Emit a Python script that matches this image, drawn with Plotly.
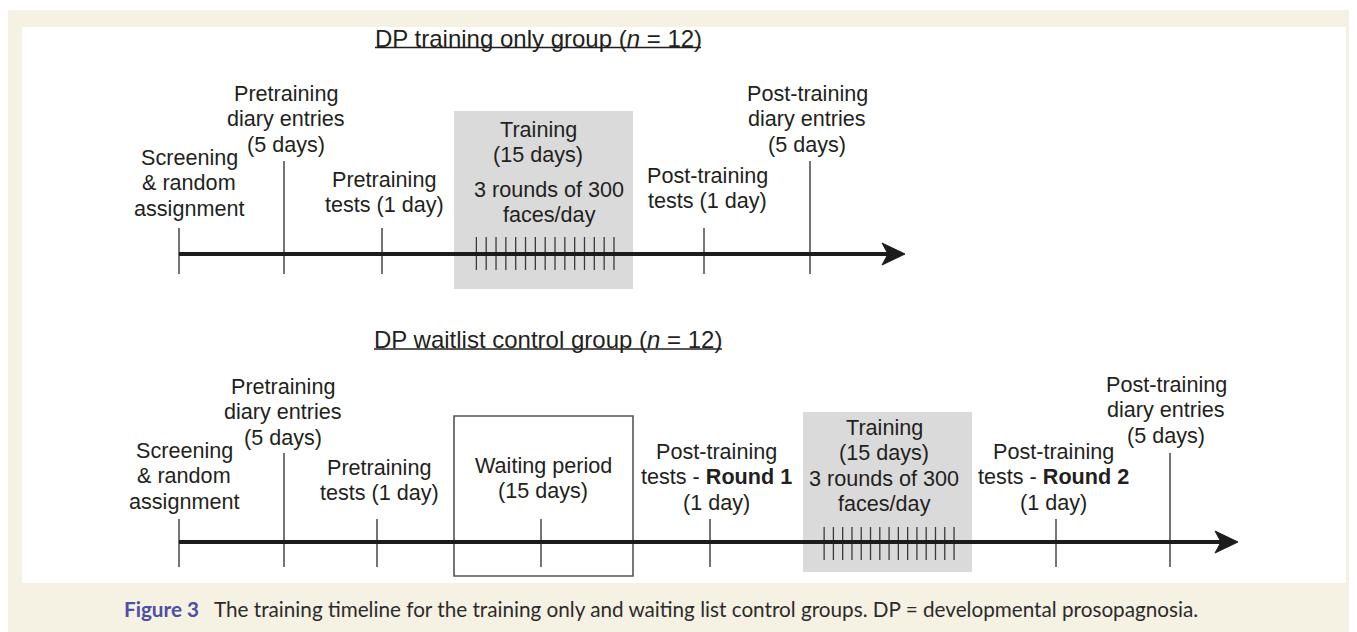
import numpy as np
import plotly.graph_objects as go

W, H = 1357, 632
OFF = 8  # browser body margin

# ---------------- data ----------------
# Top timeline: DP training only group
top_title = "DP training only group (<i>n</i> = 12)"
top_event_x = [179, 284, 382, 704, 810]
top_event_tall = [False, True, False, False, True]
top_label_lines = [
    ["Screening", "& random", "assignment"],
    ["Pretraining", "diary entries", "(5 days)"],
    ["Pretraining", "tests (1 day)"],
    ["Post-training", "tests (1 day)"],
    ["Post-training", "diary entries", "(5 days)"],
]
top_label_x = [189, 286, 384, 707, 807]
top_label_y0 = [157, 93, 179, 175, 93]
top_training_span = [454, 633]
top_training_days = 15
top_training_lines = ["Training", "(15 days)"]
top_training_lines2 = ["3 rounds of 300", "faces/day"]

# Bottom timeline: DP waitlist control group
bot_title = "DP waitlist control group (<i>n</i> = 12)"
bot_event_x = [179, 284, 377, 541, 710, 1056, 1170]
bot_event_tall = [False, True, False, False, False, False, True]
bot_label_lines = [
    ["Screening", "& random", "assignment"],
    ["Pretraining", "diary entries", "(5 days)"],
    ["Pretraining", "tests (1 day)"],
    ["Waiting period", "(15 days)"],
    ["Post-training", "tests - <b>Round 1</b>", "(1 day)"],
    ["Post-training", "tests - <b>Round 2</b>", "(1 day)"],
    ["Post-training", "diary entries", "(5 days)"],
]
bot_label_x = [184, 283, 379, 543, 716, 1053, 1166]
bot_label_y0 = [450, 386, 467, 465, 451, 451, 384]
bot_waiting_span = [454, 633]
bot_training_span = [803, 972]
bot_training_days = 15
bot_training_lines = ["Training", "(15 days)", "3 rounds of 300", "faces/day"]

caption_label = "Figure 3"
caption_text = ("The training timeline for the training only and waiting list control groups. "
                "DP = developmental prosopagnosia.")

# ---------------- styles ----------------
CREAM = "#f5f1e3"
GRAY_BOX = "#dadadb"
TXT = "#231f20"
TICK = "#3a3a3a"
AXIS = "#1c1c1c"
FONT = "Liberation Sans, Arial, sans-serif"
FS = 21.6
LS = 25.5  # line step

shapes = []
annotations = []

# background pieces
shapes.append(dict(type="rect", x0=0, x1=W, y0=0, y1=10, fillcolor="white", line_width=0, layer="below"))
shapes.append(dict(type="rect", x0=22, x1=1346, y0=27, y1=583, fillcolor="white", line_width=0, layer="below"))


def add_lines(lines, x, y0, step=LS):
    for i, t in enumerate(lines):
        annotations.append(dict(x=x, y=y0 + i * step, text=t, showarrow=False,
                                xanchor="center", yanchor="middle",
                                font=dict(family=FONT, size=FS, color=TXT)))


def timeline(axis_y, x_start, tip_x, ev_x, ev_tall, short_top, tall_top, bottom,
             train_span, train_days, train_box_y, tick_y):
    # training gray box
    shapes.append(dict(type="rect", x0=train_span[0], x1=train_span[1],
                       y0=train_box_y[0], y1=train_box_y[1],
                       fillcolor=GRAY_BOX, line_width=0, layer="below"))
    # daily ticks inside training
    pad = (train_span[1] - train_span[0]) * 0.125
    for xx in np.linspace(train_span[0] + pad * 1.0, train_span[1] - pad * 0.85, train_days):
        shapes.append(dict(type="line", x0=xx, x1=xx, y0=tick_y[0], y1=tick_y[1],
                           line=dict(color=TICK, width=1.3)))
    # event ticks
    for xx, tall in zip(ev_x, ev_tall):
        shapes.append(dict(type="line", x0=xx, x1=xx, y0=tall_top if tall else short_top, y1=bottom,
                           line=dict(color=TICK, width=1.4)))
    # main axis line
    shapes.append(dict(type="line", x0=x_start, x1=tip_x - 12, y0=axis_y, y1=axis_y,
                       line=dict(color=AXIS, width=4)))
    # arrow head
    shapes.append(dict(type="path",
                       path=f"M {tip_x-23},{axis_y-11} L {tip_x},{axis_y} L {tip_x-23},{axis_y+11} L {tip_x-17},{axis_y} Z",
                       fillcolor=AXIS, line=dict(color=AXIS, width=1)))


# top timeline
timeline(254, 179, 905, top_event_x, top_event_tall, 228, 161, 274,
         top_training_span, top_training_days, (111, 289), (237, 270))
for lines, x, y0 in zip(top_label_lines, top_label_x, top_label_y0):
    add_lines(lines, x, y0)
add_lines(top_training_lines, 538, 129)
add_lines(top_training_lines2, 549, 189)

# bottom timeline
shapes.append(dict(type="rect", x0=bot_waiting_span[0], x1=bot_waiting_span[1], y0=416, y1=576,
                   line=dict(color="#555555", width=1.6), fillcolor="rgba(0,0,0,0)"))
timeline(542, 179, 1238, bot_event_x, bot_event_tall, 519, 453, 567,
         bot_training_span, bot_training_days, (412, 572), (527, 560))
for lines, x, y0 in zip(bot_label_lines, bot_label_x, bot_label_y0):
    add_lines(lines, x, y0)
add_lines(bot_training_lines, 884, 427)

# titles with underline
annotations.append(dict(x=538, y=38, text=top_title, showarrow=False, xanchor="center", yanchor="middle",
                        font=dict(family=FONT, size=24, color=TXT)))
shapes.append(dict(type="line", x0=375, x1=701, y0=47.5, y1=47.5, line=dict(color=TXT, width=1.3)))
annotations.append(dict(x=548, y=339, text=bot_title, showarrow=False, xanchor="center", yanchor="middle",
                        font=dict(family=FONT, size=24, color=TXT)))
shapes.append(dict(type="line", x0=374, x1=722, y0=349, y1=349, line=dict(color=TXT, width=1.3)))

# caption
annotations.append(dict(x=122, y=609, text=f"<b>{caption_label}</b>", showarrow=False,
                        xanchor="left", yanchor="middle",
                        font=dict(family="Lato, sans-serif", size=20.7, color="#4b4fa6")))
annotations.append(dict(x=212, y=609, text=caption_text, showarrow=False,
                        xanchor="left", yanchor="middle",
                        font=dict(family="Lato, sans-serif", size=20.7, color="#2b2b2b")))

fig = go.Figure()
fig.add_trace(go.Scatter(x=[OFF, W], y=[OFF, H], mode="markers", marker=dict(opacity=0),
                         hoverinfo="skip", showlegend=False))
fig.update_layout(
    width=W - OFF, height=H - OFF,
    margin=dict(l=0, r=0, t=0, b=0),
    paper_bgcolor=CREAM, plot_bgcolor=CREAM,
    xaxis=dict(range=[OFF, W], visible=False, fixedrange=True),
    yaxis=dict(range=[H, OFF], visible=False, fixedrange=True),
    shapes=shapes, annotations=annotations, showlegend=False,
)
fig.write_html("out.html")
